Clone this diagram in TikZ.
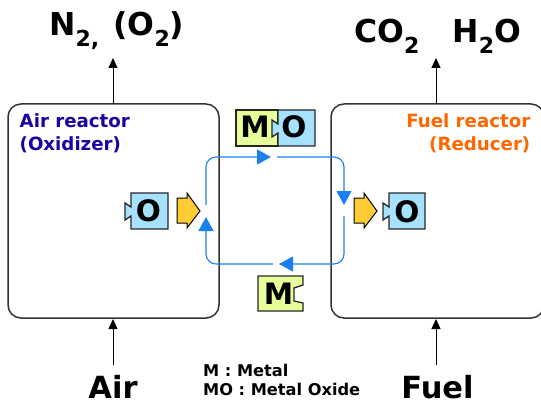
\documentclass[tikz,border=0pt]{standalone}
\usepackage{fontspec}
\setmainfont{DejaVu Sans}
\usetikzlibrary{arrows.meta}
\definecolor{metalc}{HTML}{E6FF99}
\definecolor{oxc}{HTML}{A6E1FF}
\definecolor{flowc}{HTML}{1A80F0}
\definecolor{yarrow}{HTML}{FFCC33}
\definecolor{darkb}{HTML}{1A00A0}
\definecolor{orng}{HTML}{FF6600}
\newcommand{\lowsub}[1]{\raisebox{-11pt}{\fontsize{22}{22}\selectfont #1}}
\tikzset{
  x=1pt,y=-1pt,
  reactor/.style={draw=black!80,line width=1.5pt,rounded corners=13pt,inner sep=0pt},
  flowline/.style={draw=flowc,line width=1.1pt,rounded corners=10pt},
  flowtip/.style={-{Triangle[length=14pt,width=15pt,color=flowc]}},
  stream/.style={draw=black,line width=1pt,-{Triangle[length=10pt,width=9pt]}},
  bigtext/.style={font=\bfseries\fontsize{30.5}{32}\selectfont,inner sep=0pt},
  chemtext/.style={font=\bfseries\fontsize{31.5}{32}\selectfont,inner sep=0pt},
  labeltext/.style={font=\bfseries\fontsize{18.2}{22.5}\selectfont,inner sep=0pt,align=left},
  legend/.style={font=\bfseries\fontsize{16.2}{18}\selectfont,inner sep=0pt,anchor=base west},
  piecetext/.style={font=\bfseries\fontsize{29.5}{32}\selectfont,inner sep=0pt},
  piece/.style={draw=black!85,line width=1.3pt,line join=miter},
  yellowarrow/.style={draw=black,line width=1pt,fill=yarrow},
}
\begin{document}
\begin{tikzpicture}
\useasboundingbox (0,0) rectangle (541,401);
% reactors
\node[reactor,minimum width=211pt,minimum height=214pt] (airr) at (113.5,211) {};
\node[reactor,minimum width=213pt,minimum height=214pt] (fuelr) at (437.5,211) {};
% stream labels
\node[chemtext,anchor=base west] (nout) at (49,36) {N\lowsub{2,}\hspace{0.45em}(O\lowsub{2})};
\node[chemtext,anchor=base west] (cout) at (354,43) {CO\lowsub{2}\hspace{33pt}H\lowsub{2}O};
\node[bigtext,anchor=base] (air) at (113,398) {Air};
\node[bigtext,anchor=base] (fuel) at (437.5,398) {Fuel};
\coordinate (nend) at (113,58);
\coordinate (cend) at (436,58);
\coordinate (airs) at (113,365);
\coordinate (fuels) at (436,365);
\coordinate (airn) at (113,104);
\coordinate (fueln) at (436,104);
\coordinate (airb) at (113,319);
\coordinate (fuelb) at (436,319);
\draw[stream] (airn) -- (nend);
\draw[stream] (fueln) -- (cend);
\draw[stream] (airs) -- (airb);
\draw[stream] (fuels) -- (fuelb);
% reactor labels
\node[labeltext,text=darkb,anchor=north west] (airl) at (19.5,113.5) {Air reactor\\(Oxidizer)};
\node[labeltext,text=orng,anchor=north east,align=right] (fuell) at (530.5,113.5) {Fuel reactor\\(Reducer)};
% loop
\coordinate (a0) at (206,217);
\coordinate (a1) at (206,205);
\coordinate (tl) at (206,157);
\coordinate (a2) at (271,157);
\coordinate (a3) at (277,157);
\coordinate (tr) at (344,157);
\coordinate (a4) at (344,205);
\coordinate (a5) at (344,216);
\coordinate (br) at (344,264);
\coordinate (a6) at (279,264);
\coordinate (a7) at (273,264);
\coordinate (bl) at (206,264);
\draw[flowline,flowtip] (a1) -- (tl) -- (a2);
\draw[flowline,flowtip] (a3) -- (tr) -- (a4);
\draw[flowline,flowtip] (a5) -- (br) -- (a6);
\draw[flowline,flowtip] (a7) -- (bl) -- (a0);
% yellow arrows
\draw[yellowarrow] (177,198) -- (187,198) -- (187,193) -- (200,211) -- (187,228) -- (187,223) -- (177,223) -- cycle;
\draw[yellowarrow] (354,198) -- (364,198) -- (364,193) -- (377,211) -- (364,228) -- (364,223) -- (354,223) -- cycle;
% O pieces
\draw[piece,fill=oxc] (131,193) -- (168,193) -- (168,229) -- (131,229) -- (131,216) -- (125,220) -- (125,203) -- (131,207) -- cycle;
\node[piecetext] (oleft) at (148.5,211) {O};
\draw[piece,fill=oxc] (389,193) -- (425,193) -- (425,229) -- (389,229) -- (389,216) -- (383,220) -- (383,203) -- (389,207) -- cycle;
\node[piecetext] (oright) at (407,212) {O};
% MO piece
\draw[piece,fill=metalc] (236,110) rectangle (278,146);
\draw[piece,fill=oxc] (278,110) -- (315,110) -- (315,146) -- (278,146) -- (278,133) -- (272,137) -- (272,120) -- (278,124) -- cycle;
\node[piecetext] (mlabel) at (255,127) {M};
\node[piecetext] (olabel) at (294,127) {O};
% M piece
\draw[piece,fill=metalc] (258,276) -- (303,276) -- (303,285) -- (294,288) -- (294,301) -- (303,303) -- (303,311) -- (258,311) -- cycle;
\node[piecetext] (mfree) at (278.5,293.5) {M};
% legend
\node[legend] (leg1) at (203,376) {M : Metal};
\node[legend] (leg2) at (203,395) {MO : Metal Oxide};
\end{tikzpicture}
\end{document}
